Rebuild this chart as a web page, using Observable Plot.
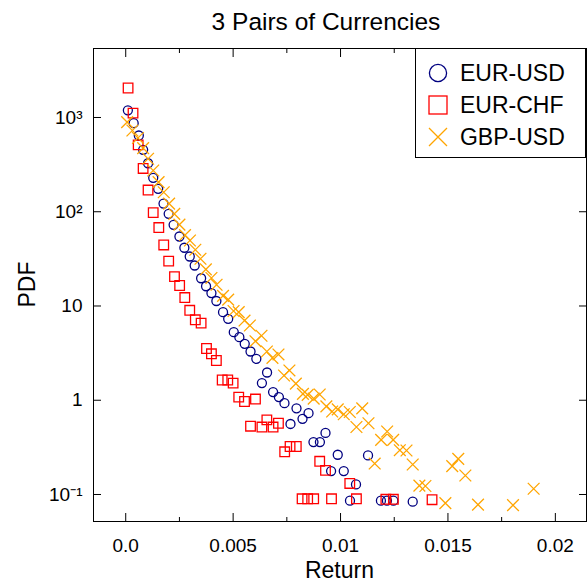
<!DOCTYPE html>
<html><head><meta charset="utf-8">
<script src="https://cdn.jsdelivr.net/npm/d3@7"></script>
<script src="https://cdn.jsdelivr.net/npm/@observablehq/plot@0.6"></script>
<style>
body{margin:0;background:#fff;}
#wrap{position:relative;width:588px;height:583px;font-family:"Liberation Sans",Arial,sans-serif;color:#000;overflow:hidden;}
#chart{position:absolute;left:0;top:0;}
.lab{position:absolute;line-height:1;white-space:nowrap;text-align:center;}
#title{left:0;width:652px;top:10px;font-size:24.5px;}
#xlabel{left:239.5px;width:200px;top:558.5px;font-size:23px;}
#ylabel{left:-73px;width:200px;top:273px;height:23px;font-size:23px;transform:rotate(-90deg);}
#legend{position:absolute;left:415px;top:48px;width:171px;height:110px;box-sizing:border-box;border:1px solid #000;background:#fff;padding-top:8px;}
.row{display:flex;align-items:center;height:32px;font-size:23px;line-height:1;}
.row svg{margin-left:11.7px;margin-right:12.3px;flex:none;}
</style></head><body>
<div id="wrap">
<div id="chart"></div>
<div id="title" class="lab">3 Pairs of Currencies</div>
<div id="xlabel" class="lab">Return</div>
<div id="ylabel" class="lab">PDF</div>
<div id="legend"></div>
</div>
<script>
// ---- data ----
const seriesNames = ["EUR-USD", "EUR-CHF", "GBP-USD"];
const seriesColors = ["#000080", "#ff0000", "#ffa500"];
const seriesSymbols = ["circle", "square", "times"];

const eurUsdX = [0.0001,0.00037,0.00061,0.00081,0.00104,0.00128,0.00151,0.00176,0.00200,0.00223,0.00250,0.00273,0.00298,0.00321,0.00351,0.00374,0.00399,0.00422,0.00453,0.00477,0.00503,0.00529,0.00554,0.00581,0.00608,0.00634,0.00658,0.00686,0.00713,0.00739,0.00767,0.00795,0.00823,0.00851,0.00874,0.00904,0.00930,0.00956,0.00987,0.01015,0.01044,0.01072,0.01128,0.01188,0.01216,0.01246,0.01336];
const eurUsdY = [1190,871,644,454,327,229,175,122,95,72.7,54.6,41.5,33.5,26.9,19.7,16.2,13.7,11.3,8.6,7.31,5.27,4.67,3.97,3.29,2.75,1.52,1.97,1.22,1.08,0.93,0.56,0.82,0.635,0.73,0.36,0.36,0.45,0.177,0.264,0.177,0.086,0.128,0.26,0.086,0.086,0.086,0.084];

const eurChfX = [0.00011,0.00034,0.00058,0.00081,0.00104,0.00128,0.00154,0.00177,0.00200,0.00227,0.00251,0.00275,0.00298,0.00324,0.00351,0.00376,0.00399,0.00422,0.00449,0.00475,0.00500,0.00526,0.00553,0.00581,0.00604,0.00634,0.00657,0.00686,0.00711,0.00740,0.00765,0.00794,0.00821,0.00847,0.00875,0.00903,0.00930,0.00958,0.01043,0.01074,0.01211,0.01246,0.01426];
const eurChfY = [2055,1111,513,288,170,98,68,44.4,29.9,20.5,16.5,12.3,9.0,7.14,6.57,3.54,3.11,2.64,1.64,1.64,1.52,1.08,0.97,0.53,1.03,0.52,0.62,0.52,0.57,0.284,0.323,0.323,0.09,0.09,0.09,0.225,0.18,0.09,0.131,0.09,0.089,0.089,0.088];

const gbpUsdX = [0.000065,0.00031,0.00057,0.00081,0.00104,0.00128,0.00153,0.00177,0.00202,0.00226,0.00250,0.00276,0.00299,0.00324,0.00348,0.00373,0.00399,0.00423,0.00453,0.00477,0.00502,0.00526,0.00553,0.00578,0.00604,0.00632,0.00657,0.00683,0.00711,0.00737,0.00762,0.00792,0.00825,0.00847,0.00875,0.00903,0.00934,0.00961,0.00987,0.01015,0.01043,0.01074,0.01101,0.01130,0.01159,0.01189,0.01217,0.01245,0.01276,0.01307,0.01336,0.01367,0.01395,0.01488,0.01520,0.01548,0.01581,0.01640,0.01803,0.01899];
const gbpUsdY = [892,728,606,474,365,274,206,161,122,95,72.9,56.6,49.5,39.5,31.7,24.5,19.8,16.8,12.8,11.7,8.85,8.6,7.01,6.21,4.23,4.83,3.29,2.81,3.06,1.83,2.07,1.50,1.17,1.14,1.04,1.15,0.86,0.76,0.80,0.71,0.75,0.52,0.82,0.57,0.213,0.38,0.466,0.38,0.295,0.293,0.208,0.124,0.123,0.081,0.20,0.239,0.159,0.078,0.077,0.115];

const xTicks = [0, 0.005, 0.01, 0.015, 0.02];
const xTickLabels = ["0.0", "0.005", "0.01", "0.015", "0.02"];
const xMinorTicks = [0.0025, 0.0075, 0.0125, 0.0175];
const yTicks = [0.1, 1, 10, 100, 1000];
const yTickLabels = ["10\u207B\u00B9", "1", "10", "10\u00B2", "10\u00B3"];

// ---- build ----
const toRows = (xs, ys) => xs.map((x, i) => ({x, y: ys[i]}));
const sets = [toRows(eurUsdX, eurUsdY), toRows(eurChfX, eurChfY), toRows(gbpUsdX, gbpUsdY)];
const radii = [4.5, 5.4, 5.4];

const chart = Plot.plot({
  width: 588, height: 583,
  marginLeft: 93, marginRight: 2, marginTop: 48, marginBottom: 62,
  style: {fontFamily: '"Liberation Sans", Arial, sans-serif', fontSize: "19px", color: "#000", background: "#fff"},
  x: {domain: [-0.0015, 0.02145]},
  y: {type: "log", domain: [0.0517, 5395]},
  marks: [
    ...sets.map((data, k) => Plot.dot(data, {
      x: "x", y: "y", symbol: seriesSymbols[k], r: radii[k],
      stroke: seriesColors[k], strokeWidth: 1.3, fill: "none"
    })),
    Plot.frame({stroke: "#000", strokeWidth: 1}),
    Plot.axisX(xTicks, {anchor: "bottom", tickSize: -8, tickPadding: 24.5, label: null,
      tickFormat: d => xTickLabels[xTicks.indexOf(d)]}),
    Plot.axisX(xMinorTicks, {anchor: "bottom", tickSize: -4, label: null, tickFormat: () => ""}),
    Plot.axisX(xTicks, {anchor: "top", tickSize: -8, label: null, tickFormat: () => ""}),
    Plot.axisX(xMinorTicks, {anchor: "top", tickSize: -4, label: null, tickFormat: () => ""}),
    Plot.axisY(yTicks, {anchor: "left", tickSize: -8, tickPadding: 19, label: null,
      tickFormat: d => yTickLabels[yTicks.indexOf(d)]}),
    Plot.axisY(yTicks, {anchor: "right", tickSize: -8, label: null, tickFormat: () => ""})
  ]
});
document.getElementById("chart").append(chart);

// ---- legend ----
const legend = document.getElementById("legend");
const ns = "http://www.w3.org/2000/svg";
seriesNames.forEach((name, k) => {
  const row = document.createElement("div");
  row.className = "row";
  const svg = document.createElementNS(ns, "svg");
  svg.setAttribute("width", 20); svg.setAttribute("height", 20);
  svg.setAttribute("viewBox", "-10 -10 20 20");
  let el;
  if (seriesSymbols[k] === "circle") {
    el = document.createElementNS(ns, "circle"); el.setAttribute("r", 8.6);
  } else if (seriesSymbols[k] === "square") {
    el = document.createElementNS(ns, "rect");
    el.setAttribute("x", -9); el.setAttribute("y", -9); el.setAttribute("width", 18); el.setAttribute("height", 18);
  } else {
    el = document.createElementNS(ns, "path"); el.setAttribute("d", "M-9,-9L9,9M9,-9L-9,9");
  }
  el.setAttribute("fill", "none"); el.setAttribute("stroke", seriesColors[k]); el.setAttribute("stroke-width", 1.3);
  svg.append(el);
  const span = document.createElement("span");
  span.textContent = name;
  row.append(svg, span);
  legend.append(row);
});
</script>
</body></html>
